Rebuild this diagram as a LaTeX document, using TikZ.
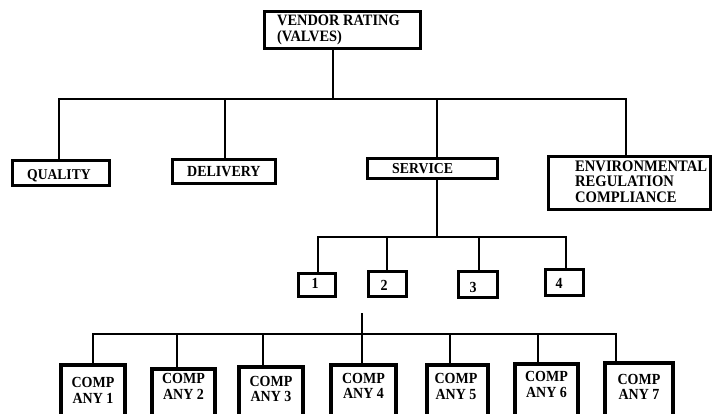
\documentclass[tikz,border=0pt]{standalone}
\usepackage{fontspec}
\usepackage{graphicx}
\setmainfont{Liberation Serif}
\newcommand\tallt[1]{\scalebox{1}[1.1]{#1}}
\begin{document}
\begin{tikzpicture}[x=1pt,y=-1pt,
  box/.style={draw=black, line width=3pt, inner sep=0pt, fill=white},
  cbox/.style={draw=black, line width=4pt, inner sep=0pt, fill=white},
  conn/.style={draw=black, line width=2.4pt, line cap=rect},
  lbl/.style={inner sep=0pt, font=\fontsize{14}{16}\selectfont\bfseries, text=black},
]
\useasboundingbox (0,0) rectangle (712,414);
\clip (0,0) rectangle (712,414);

% ---------- boxes ----------
\node[box, minimum width=156pt, minimum height=37pt] (vr) at (342.5,30) {};
\node[box, minimum width=97pt,  minimum height=25pt] (q)  at (61,173) {};
\node[box, minimum width=103pt, minimum height=24pt] (d)  at (224,171.5) {};
\node[box, minimum width=130pt, minimum height=20pt] (s)  at (432.5,168.5) {};
\node[box, minimum width=162pt, minimum height=53pt] (e)  at (629.5,183) {};

\node[box, minimum width=37pt, minimum height=23pt] (n1) at (317,285) {};
\node[box, minimum width=38pt, minimum height=25pt] (n2) at (387.5,284) {};
\node[box, minimum width=39pt, minimum height=26pt] (n3) at (478,284.5) {};
\node[box, minimum width=38pt, minimum height=26pt] (n4) at (564.5,282.5) {};

\node[cbox, minimum width=64pt, minimum height=73pt] (c1) at (93,401.5) {};
\node[cbox, minimum width=63pt, minimum height=69pt] (c2) at (183.5,403.5) {};
\node[cbox, minimum width=64pt, minimum height=71pt] (c3) at (271,402.5) {};
\node[cbox, minimum width=65pt, minimum height=73pt] (c4) at (363.5,401.5) {};
\node[cbox, minimum width=61pt, minimum height=73pt] (c5) at (457.5,401.5) {};
\node[cbox, minimum width=63pt, minimum height=74pt] (c6) at (546.5,401) {};
\node[cbox, minimum width=68pt, minimum height=75pt] (c7) at (639,400.5) {};

% ---------- connectors: level 1 ----------
\coordinate (j0) at (333,99);
\coordinate (jq) at (59,99);
\coordinate (jd) at (225,99);
\coordinate (js) at (437,99);
\coordinate (je) at (626,99);
\draw[conn] (j0 |- vr.south) -- (j0);
\draw[conn] (jq |- q.north) -- (jq) -- (je) -- (je |- e.north);
\draw[conn] (jd) -- (jd |- d.north);
\draw[conn] (js) -- (js |- s.north);

% ---------- connectors: level 2 ----------
\coordinate (k0) at (437,237);
\coordinate (k1) at (318,237);
\coordinate (k2) at (387,237);
\coordinate (k3) at (479,237);
\coordinate (k4) at (566,237);
\draw[conn] (k0 |- s.south) -- (k0);
\draw[conn] (k1 |- n1.north) -- (k1) -- (k4) -- (k4 |- n4.north);
\draw[conn] (k2) -- (k2 |- n2.north);
\draw[conn] (k3) -- (k3 |- n3.north);

% ---------- connectors: level 3 ----------
\coordinate (mt) at (362,314);
\coordinate (m0) at (362,334);
\coordinate (m1) at (93,334);
\coordinate (m2) at (177,334);
\coordinate (m3) at (263,334);
\coordinate (m5) at (450,334);
\coordinate (m6) at (538,334);
\coordinate (m7) at (616,334);
\draw[conn] (mt) -- (m0);
\draw[conn] (m1 |- c1.north) -- (m1) -- (m7) -- (m7 |- c7.north);
\draw[conn] (m2) -- (m2 |- c2.north);
\draw[conn] (m3) -- (m3 |- c3.north);
\draw[conn] (m0) -- (m0 |- c4.north);
\draw[conn] (m5) -- (m5 |- c5.north);
\draw[conn] (m6) -- (m6 |- c6.north);

% ---------- labels ----------
\node[lbl, font=\fontsize{14.4}{16}\selectfont\bfseries, anchor=base west] (vrt1) at (277,26) {\tallt{VENDOR RATING}};
\node[lbl, font=\fontsize{14.4}{16}\selectfont\bfseries, anchor=base west] (vrt2) at (277,42) {\tallt{(VALVES)}};
\node[lbl, font=\fontsize{13.6}{16}\selectfont\bfseries, anchor=base west] (qt) at (27,180) {\tallt{QUALITY}};
\node[lbl, anchor=base west] (dt) at (187,177) {\tallt{DELIVERY}};
\node[lbl, font=\fontsize{13.8}{16}\selectfont\bfseries, anchor=base west] (st) at (392,174) {\tallt{SERVICE}};
\node[lbl, font=\fontsize{14.6}{16}\selectfont\bfseries, anchor=base west] (et1) at (575,172) {\tallt{ENVIRONMENTAL}};
\node[lbl, font=\fontsize{14.6}{16}\selectfont\bfseries, anchor=base west] (et2) at (575,187) {\tallt{REGULATION}};
\node[lbl, font=\fontsize{14.6}{16}\selectfont\bfseries, anchor=base west] (et3) at (575,203) {\tallt{COMPLIANCE}};

\node[lbl, anchor=base] (n1t) at (315,288) {\tallt{1}};
\node[lbl, anchor=base] (n2t) at (384,290) {\tallt{2}};
\node[lbl, anchor=base] (n3t) at (473,292) {\tallt{3}};
\node[lbl, anchor=base] (n4t) at (559,288) {\tallt{4}};

\node[lbl, anchor=base] (c1a) at (93,387) {\tallt{COMP}};
\node[lbl, anchor=base] (c1b) at (93,403) {\tallt{ANY 1}};
\node[lbl, anchor=base] (c2a) at (183.5,383) {\tallt{COMP}};
\node[lbl, anchor=base] (c2b) at (183.5,399) {\tallt{ANY 2}};
\node[lbl, anchor=base] (c3a) at (271,386) {\tallt{COMP}};
\node[lbl, anchor=base] (c3b) at (271,401) {\tallt{ANY 3}};
\node[lbl, anchor=base] (c4a) at (363.5,383) {\tallt{COMP}};
\node[lbl, anchor=base] (c4b) at (363.5,398) {\tallt{ANY 4}};
\node[lbl, anchor=base] (c5a) at (456,383) {\tallt{COMP}};
\node[lbl, anchor=base] (c5b) at (456,399) {\tallt{ANY 5}};
\node[lbl, anchor=base] (c6a) at (546.5,381) {\tallt{COMP}};
\node[lbl, anchor=base] (c6b) at (546.5,397) {\tallt{ANY 6}};
\node[lbl, anchor=base] (c7a) at (639,384) {\tallt{COMP}};
\node[lbl, anchor=base] (c7b) at (639,399) {\tallt{ANY 7}};
\end{tikzpicture}
\end{document}
